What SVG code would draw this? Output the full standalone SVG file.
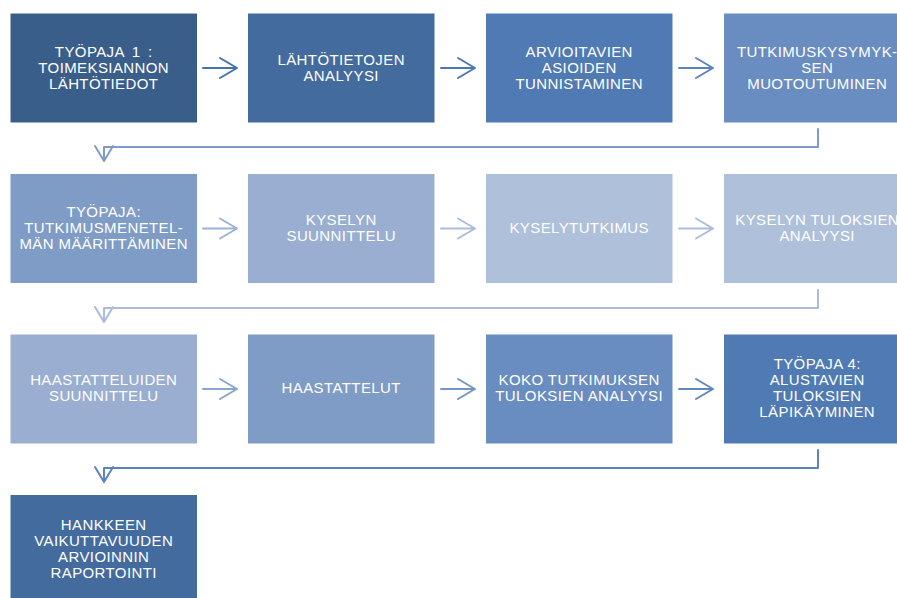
<svg xmlns="http://www.w3.org/2000/svg" width="897" height="598" viewBox="0 0 897 598">
<defs>
<style>
.box{stroke:#ffffff;stroke-width:1}
.t{font-family:"Liberation Sans",Arial,sans-serif;font-size:15px;letter-spacing:0.4px;fill:#ffffff;text-anchor:middle}
.ar{fill:none;stroke-width:2;stroke-linecap:round;stroke-linejoin:round}
</style>
</defs>
<rect width="897" height="598" fill="#ffffff"/>
<g id="connectors">
<path class="ar" stroke="#4472AC" d="M203,68 H237 M220,58 L237,68 L220,78"/>
<path class="ar" stroke="#4A78B3" d="M441,68 H475 M458,58 L475,68 L458,78"/>
<path class="ar" stroke="#5B84BD" d="M679,68 H713 M696,58 L713,68 L696,78"/>
<path class="ar" stroke="#7F9CC6" d="M818,129 V147 H104 V161 M95,146 L104,161 L113,146"/>
<path class="ar" stroke="#9DB2D5" d="M203,228.5 H237 M220,218.5 L237,228.5 L220,238.5"/>
<path class="ar" stroke="#ABBDDB" d="M441,228.5 H475 M458,218.5 L475,228.5 L458,238.5"/>
<path class="ar" stroke="#ABBDDB" d="M679,228.5 H713 M696,218.5 L713,228.5 L696,238.5"/>
<path class="ar" stroke="#A9BCDB" d="M818,290 V308 H104 V322 M95,307 L104,322 L113,307"/>
<path class="ar" stroke="#8AA5CD" d="M203,389 H237 M220,379 L237,389 L220,399"/>
<path class="ar" stroke="#7396C6" d="M441,389 H475 M458,379 L475,389 L458,399"/>
<path class="ar" stroke="#5F88BF" d="M679,389 H713 M696,379 L713,389 L696,399"/>
<path class="ar" stroke="#5C83BB" d="M818,450 V468 H104 V482 M95,467 L104,482 L113,467"/>
</g>
<g id="n1"><rect class="box" x="10" y="13" width="187.5" height="110" fill="#3A5E8A"/>
<text class="t" x="103.7" y="57" word-spacing="3">TYÖPAJA 1 :</text><text class="t" x="103.7" y="73">TOIMEKSIANNON</text><text class="t" x="103.7" y="89">LÄHTÖTIEDOT</text></g>
<g id="n2"><rect class="box" x="247.5" y="13" width="187.5" height="110" fill="#436B9E"/>
<text class="t" x="341.2" y="65">LÄHTÖTIETOJEN</text><text class="t" x="341.2" y="81">ANALYYSI</text></g>
<g id="n3"><rect class="box" x="485.5" y="13" width="187.5" height="110" fill="#4F7AB3"/>
<text class="t" x="579.2" y="57">ARVIOITAVIEN</text><text class="t" x="579.2" y="73">ASIOIDEN</text><text class="t" x="579.2" y="89">TUNNISTAMINEN</text></g>
<g id="n4"><rect class="box" x="723.5" y="13" width="188" height="110" fill="#698DC0"/>
<text class="t" x="817.2" y="57">TUTKIMUSKYSYMYK-</text><text class="t" x="817.2" y="73">SEN</text><text class="t" x="817.2" y="89">MUOTOUTUMINEN</text></g>
<g id="n5"><rect class="box" x="10" y="173.5" width="187.5" height="110" fill="#7F9CC6"/>
<text class="t" x="103.7" y="217">TYÖPAJA:</text><text class="t" x="103.7" y="233">TUTKIMUSMENETEL-</text><text class="t" x="103.7" y="249">MÄN MÄÄRITTÄMINEN</text></g>
<g id="n6"><rect class="box" x="247.5" y="173.5" width="187.5" height="110" fill="#99AED1"/>
<text class="t" x="341.2" y="225">KYSELYN</text><text class="t" x="341.2" y="241">SUUNNITTELU</text></g>
<g id="n7"><rect class="box" x="485.5" y="173.5" width="187.5" height="110" fill="#AFC0DB"/>
<text class="t" x="579.2" y="233">KYSELYTUTKIMUS</text></g>
<g id="n8"><rect class="box" x="723.5" y="173.5" width="188" height="110" fill="#AFC0DB"/>
<text class="t" x="817.2" y="225">KYSELYN TULOKSIEN</text><text class="t" x="817.2" y="241">ANALYYSI</text></g>
<g id="n9"><rect class="box" x="10" y="334" width="187.5" height="110" fill="#99AED1"/>
<text class="t" x="103.7" y="385">HAASTATTELUIDEN</text><text class="t" x="103.7" y="401">SUUNNITTELU</text></g>
<g id="n10"><rect class="box" x="247.5" y="334" width="187.5" height="110" fill="#7F9CC6"/>
<text class="t" x="341.2" y="393">HAASTATTELUT</text></g>
<g id="n11"><rect class="box" x="485.5" y="334" width="187.5" height="110" fill="#698DC0"/>
<text class="t" x="579.2" y="385">KOKO TUTKIMUKSEN</text><text class="t" x="579.2" y="401">TULOKSIEN ANALYYSI</text></g>
<g id="n12"><rect class="box" x="723.5" y="334" width="188" height="110" fill="#4F7AB3"/>
<text class="t" x="817.2" y="369">TYÖPAJA 4:</text><text class="t" x="817.2" y="385">ALUSTAVIEN</text><text class="t" x="817.2" y="401">TULOKSIEN</text><text class="t" x="817.2" y="417">LÄPIKÄYMINEN</text></g>
<g id="n13"><rect class="box" x="10" y="494.5" width="187.5" height="110" fill="#436B9E"/>
<text class="t" x="103.7" y="530">HANKKEEN</text><text class="t" x="103.7" y="546">VAIKUTTAVUUDEN</text><text class="t" x="103.7" y="562">ARVIOINNIN</text><text class="t" x="103.7" y="578">RAPORTOINTI</text></g>
</svg>
